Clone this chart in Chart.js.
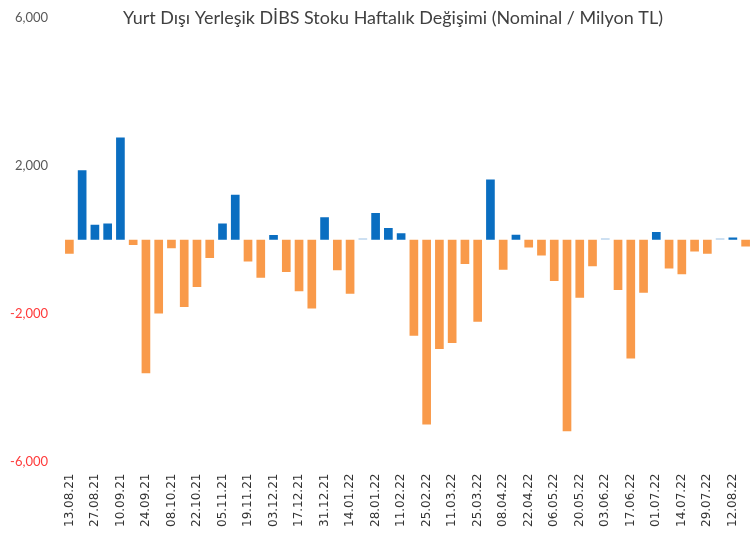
<!DOCTYPE html>
<html>
<head>
<meta charset="utf-8">
<script src="https://cdn.jsdelivr.net/npm/chart.js@4.4.1/dist/chart.umd.min.js"></script>
<style>
  html, body { margin: 0; padding: 0; background: #ffffff; }
  #wrap { width: 752px; height: 540px; position: relative; }
</style>
</head>
<body>
<div id="wrap"><canvas id="c" width="752" height="540"></canvas></div>
<script>
const titleText = "Yurt Dışı Yerleşik DİBS Stoku Haftalık Değişimi (Nominal / Milyon TL)";

const weeks = [
  "13.08.21","20.08.21","27.08.21","03.09.21","10.09.21","17.09.21","24.09.21","01.10.21",
  "08.10.21","15.10.21","22.10.21","29.10.21","05.11.21","12.11.21","19.11.21","26.11.21",
  "03.12.21","10.12.21","17.12.21","24.12.21","31.12.21","07.01.22","14.01.22","21.01.22",
  "28.01.22","04.02.22","11.02.22","18.02.22","25.02.22","04.03.22","11.03.22","18.03.22",
  "25.03.22","01.04.22","08.04.22","15.04.22","22.04.22","29.04.22","06.05.22","13.05.22",
  "20.05.22","27.05.22","03.06.22","10.06.22","17.06.22","24.06.22","01.07.22","08.07.22",
  "14.07.22","22.07.22","29.07.22","05.08.22","12.08.22","19.08.22"
];

const weeklyChange = [
  -380, 1880, 410, 440, 2770, -140, -3610, -1995, -230, -1820, -1280, -490,
  440, 1215, -590, -1025, 130, -870, -1390, -1860, 610, -825, -1460, 40,
  725, 320, 180, -2595, -5000, -2955, -2795, -655, -2220, 1630, -810, 135,
  -210, -425, -1115, -5180, -1570, -715, 40, -1360, -3210, -1430, 210, -780,
  -935, -320, -380, 40, 60, -180
];

const yTicks = [-6000, -2000, 2000, 6000];

const BLUE = "#0A6EC1";
const LIGHT_BLUE = "#BCD6EE";
const ORANGE = "#F99A4A";

const titlePlugin = {
  id: "overTitle",
  afterDraw(chart) {
    const ctx = chart.ctx;
    ctx.save();
    let size = 17;
    ctx.font = size + "px Lato";
    const w = ctx.measureText(titleText).width;
    size = size * 540 / w;
    ctx.font = size + "px Lato";
    ctx.fillStyle = "#404040";
    ctx.textAlign = "center";
    ctx.textBaseline = "middle";
    ctx.fillText(titleText, 393, 18);
    ctx.restore();
  }
};

new Chart(document.getElementById("c"), {
  type: "bar",
  data: {
    labels: weeks,
    datasets: [{
      data: weeklyChange,
      backgroundColor: (c) => {
        const v = c.raw;
        if (v < 0) return ORANGE;
        return v < 50 ? LIGHT_BLUE : BLUE;
      },
      barPercentage: 0.68,
      categoryPercentage: 1.0,
      borderWidth: 0
    }]
  },
  options: {
    responsive: false,
    animation: false,
    layout: { padding: { top: 18, right: 0, bottom: 9, left: 0 } },
    plugins: {
      legend: { display: false },
      tooltip: { enabled: false },
      title: { display: false }
    },
    scales: {
      x: {
        grid: { display: false },
        border: { display: false },
        afterFit: (s) => { s.paddingLeft = 0; s.paddingRight = 0; },
        ticks: {
          autoSkip: false,
          maxRotation: 90,
          minRotation: 90,
          padding: 4,
          color: "#333333",
          font: { family: "DejaVu Sans", size: 12 },
          callback: function (val, idx) { return idx % 2 === 0 ? this.getLabelForValue(val) : ""; }
        }
      },
      y: {
        min: -6000,
        max: 6000,
        afterBuildTicks: (scale) => { scale.ticks = yTicks.map(v => ({ value: v })); },
        afterFit: (s) => { s.width = 63; s.paddingTop = 0; s.paddingBottom = 0; },
        grid: { display: false },
        border: { display: false },
        ticks: {
          padding: 7,
          font: { family: "Lato", size: 13 },
          color: (c) => (c.tick && c.tick.value < 0) ? "#FF3B3B" : "#595959",
          callback: (v) => v.toLocaleString("en-US")
        }
      }
    }
  },
  plugins: [titlePlugin]
});
</script>
</body>
</html>
